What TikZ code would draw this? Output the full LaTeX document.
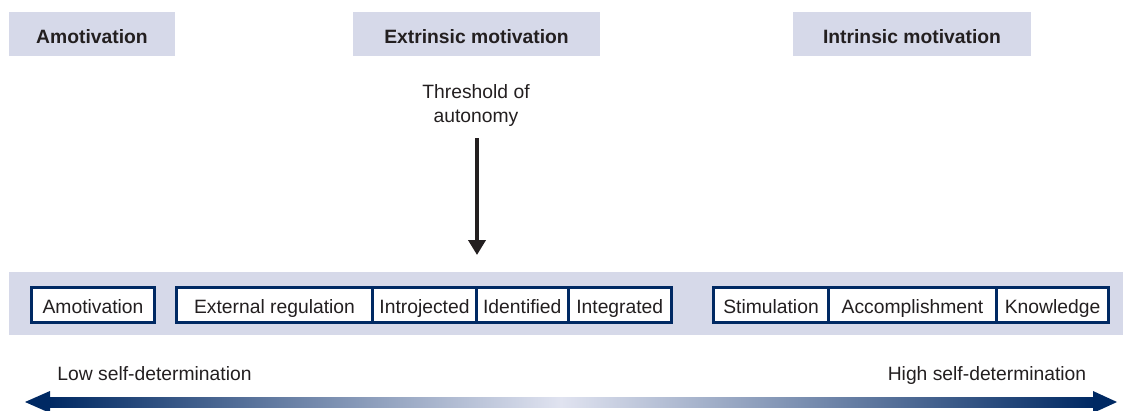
\documentclass[tikz,border=0pt]{standalone}
\usepackage{fontspec}
\setmainfont{Liberation Sans}
\usetikzlibrary{arrows.meta}
\definecolor{lav}{RGB}{214,217,233}
\definecolor{navy}{RGB}{0,41,99}
\definecolor{ink}{RGB}{35,31,32}
\definecolor{pale}{RGB}{224,227,240}

\begin{document}
\begin{tikzpicture}[x=1pt, y=-1pt, text=ink,
	font=\fontsize{19.3}{24}\selectfont,
	lbl/.style={text height=14.8pt, text depth=0pt},
	head/.style={fill=lav, minimum height=44pt, inner sep=0pt, text height=18pt, text depth=0pt,
		font=\fontsize{19.3}{24}\selectfont\bfseries},
	lvl/.style={draw=navy, line width=3pt, fill=white, minimum height=35pt, inner sep=0pt,
		text height=16.5pt, text depth=0pt}]
	\useasboundingbox (0,0) rectangle (1123,410);

	\node[head, minimum width=166pt] (hamot) at (92,34) {Amotivation};
	\node[head, minimum width=247pt] (hextr) at (476.5,34) {Extrinsic motivation};
	\node[head, minimum width=238pt] (hintr) at (912,34) {Intrinsic motivation};

	\node[align=center] (thr) at (476,106) {Threshold of\\autonomy};
	\coordinate (thrtip) at (477,255);
	\draw [ink, line width=4pt, -{Triangle[length=15pt,width=17pt]}] (477,138) -- (thrtip);

	\fill [lav] (9,272) rectangle (1123,335);

	\node[lvl, minimum width=123pt] (amot) at (93,305) {Amotivation};
	\node[lvl, minimum width=196pt] (ext) at (274.5,305) {External regulation};
	\node[lvl, minimum width=104pt] (intro) at (424.5,305) {Introjected};
	\node[lvl, minimum width=91.5pt] (ident) at (522.25,305) {Identified};
	\node[lvl, minimum width=103.5pt] (integ) at (619.75,305) {Integrated};
	\node[lvl, minimum width=115pt] (stim) at (771,305) {Stimulation};
	\node[lvl, minimum width=168pt] (accom) at (912.5,305) {Accomplishment};
	\node[lvl, minimum width=112pt] (know) at (1052.5,305) {Knowledge};

	\node[lbl] (low) at (154.5,373) {Low self-determination};
	\node[lbl] (high) at (987,373) {High self-determination};

	\coordinate (lowtip) at (25,402);
	\coordinate (hightip) at (1117,402);
	\fill [left color=navy, right color=pale] (49,397) rectangle (561,407);
	\fill [left color=pale, right color=navy] (561,397) rectangle (1094,407);
	\fill [navy] (lowtip) -- (50,391) -- (50,413) -- cycle;
	\fill [navy] (hightip) -- (1093,391) -- (1093,413) -- cycle;
\end{tikzpicture}
\end{document}
